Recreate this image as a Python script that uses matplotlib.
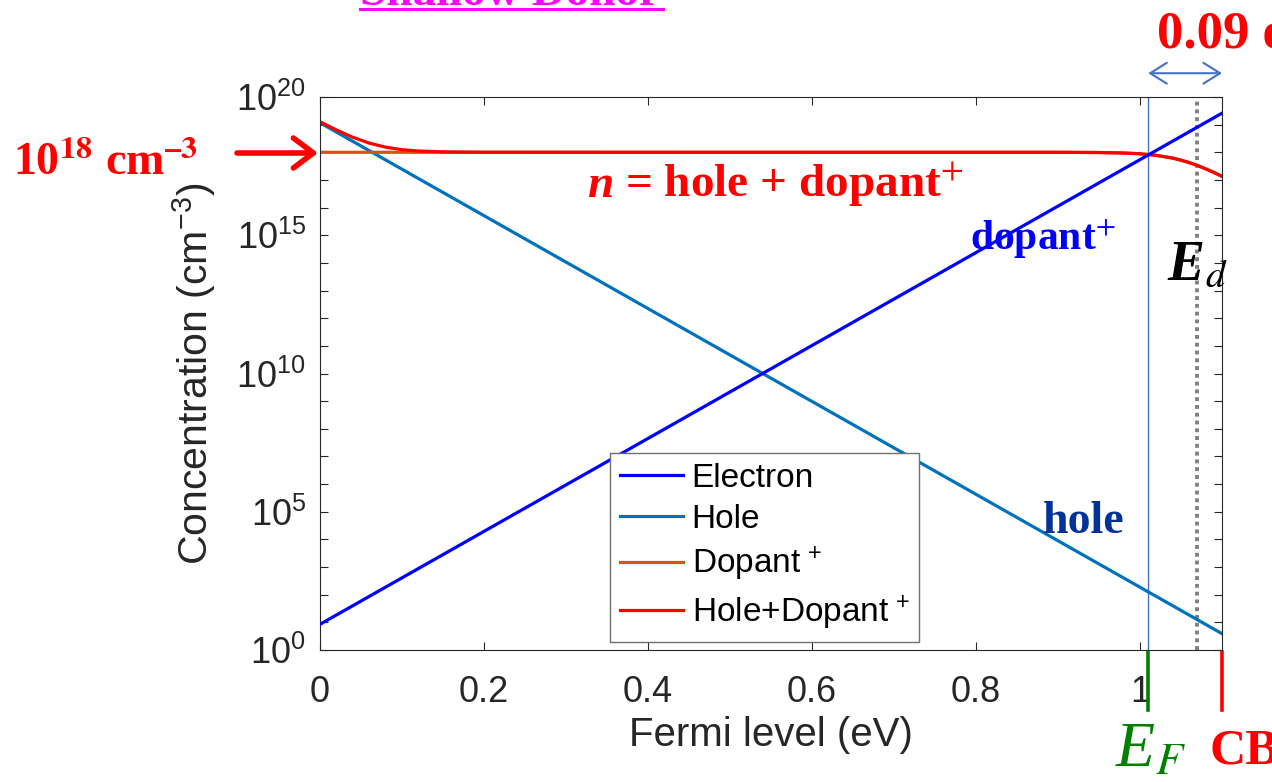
import matplotlib
matplotlib.use('Agg')
import matplotlib.pyplot as plt
from matplotlib.ticker import FixedLocator, FixedFormatter, NullFormatter
from matplotlib.lines import Line2D

W, H = 1272, 782

# energy positions (eV)
e_fermi = 1.01
e_donor = 1.07
e_cb = 1.1

electron_x = [0.0, 1.1]
electron_y = [8.5, 2.6e19]
hole_x = [0.0, 1.1]
hole_y = [1.17e19, 3.9]
dopant_x = [0.0, 0.9, 0.95, 0.98, 1.0, 1.02, 1.04, 1.05, 1.06, 1.07, 1.08, 1.09, 1.1]
dopant_y = [1.0e18, 1.0e18, 0.981e18, 0.942e18, 0.883e18, 0.776e18, 0.615e18,
            0.52e18, 0.424e18, 0.333e18, 0.2535e18, 0.187e18, 0.1355e18]
total_x = [0.0, 0.02, 0.04, 0.06, 0.08, 0.10, 0.12, 0.15, 0.2,
           0.9, 0.95, 0.98, 1.0, 1.02, 1.04, 1.05, 1.06, 1.07, 1.08, 1.09, 1.1]
total_y = [1.275e19, 6.42e18, 3.5e18, 2.15e18, 1.53e18, 1.245e18, 1.113e18, 1.035e18, 1.005e18,
           1.0e18, 0.981e18, 0.942e18, 0.883e18, 0.776e18, 0.615e18,
           0.52e18, 0.424e18, 0.333e18, 0.2535e18, 0.187e18, 0.1355e18]

x_ticks = [0, 0.2, 0.4, 0.6, 0.8, 1.0]
x_ticklabels = ['0', '0.2', '0.4', '0.6', '0.8', '1']
y_ticks = [1e0, 1e5, 1e10, 1e15, 1e20]
y_ticklabels = [r'$10^{0}$', r'$10^{5}$', r'$10^{10}$', r'$10^{15}$', r'$10^{20}$']

plt.rcParams['font.family'] = ['Liberation Sans', 'DejaVu Sans']
plt.rcParams['mathtext.fontset'] = 'custom'
plt.rcParams['mathtext.rm'] = 'Liberation Sans'
plt.rcParams['mathtext.it'] = 'Liberation Sans:italic'
plt.rcParams['mathtext.bf'] = 'Liberation Sans:bold'

fig = plt.figure(figsize=(W / 100, H / 100), dpi=100)
ax = fig.add_axes([320 / W, 1 - 650 / H, 902 / W, 553 / H])

h_hole, = ax.plot(hole_x, hole_y, color='#0072BD', lw=2.3, zorder=2)
h_dop, = ax.plot(dopant_x, dopant_y, color='#D95319', lw=2.3, zorder=2)
h_tot, = ax.plot(total_x, total_y, color='#FF0000', lw=2.3, zorder=2)
h_el, = ax.plot(electron_x, electron_y, color='#0000FF', lw=2.3, zorder=3)

ax.axvline(e_fermi, color='#4472C4', lw=1.0, zorder=1)
ax.axvline(e_donor, color='#808080', lw=2.8, ls=(0, (1, 1)), zorder=1)

ax.set_yscale('log')
ax.set_xlim(0, 1.1)
ax.set_ylim(1e0, 1e20)
ax.xaxis.set_major_locator(FixedLocator(x_ticks))
ax.xaxis.set_major_formatter(FixedFormatter(x_ticklabels))
ax.yaxis.set_major_locator(FixedLocator(y_ticks))
ax.yaxis.set_major_formatter(FixedFormatter(y_ticklabels))
ax.yaxis.set_minor_locator(FixedLocator([10.0 ** k for k in range(21)]))
ax.yaxis.set_minor_formatter(NullFormatter())
ax.tick_params(which='both', direction='in', top=True, right=True,
               colors='#262626', labelsize=26, length=6, width=0.8)
ax.tick_params(axis='x', pad=18)
ax.tick_params(axis='y', pad=10)
for sp in ax.spines.values():
    sp.set_color('#262626')
    sp.set_linewidth(0.8)

ax.set_xlabel('Fermi level (eV)', fontsize=29, color='#262626', labelpad=4)
ax.set_ylabel(r'Concentration (cm$^{-3}$)', fontsize=29.5, color='#262626', labelpad=13)

leg = ax.legend([h_el, h_hole, h_dop, h_tot],
                ['Electron', 'Hole', r'Dopant$^{\,+}$', r'Hole+Dopant$^{\,+}$'],
                loc='upper left', bbox_to_anchor=(610 / W, 1 - 453 / H),
                bbox_transform=fig.transFigure, borderaxespad=0, fontsize=24,
                handlelength=1.9, handletextpad=0.25, borderpad=0.3,
                labelspacing=0.3, fancybox=False, framealpha=1, edgecolor='#707070')
leg.get_frame().set_linewidth(1.0)

serif = 'Liberation Serif'


def label(x, y, s, **kw):
    fig.text(x / W, 1 - y / H, s, family=serif, math_fontfamily='stix', **kw)


# title (cut at the top edge) with underline
label(360, 5, 'Shallow Donor', fontsize=34, fontweight='bold', color='#FF00FF')
fig.add_artist(Line2D([360 / W, 663 / W], [1 - 9 / H, 1 - 9 / H], color='#FF00FF', lw=2.2))

label(1157, 47, '0.09 eV', fontsize=38, fontweight='bold', color='#FF0000')
label(13, 175, '10$^{\\mathbf{18}}$ cm$^{\\mathbf{\u2013}\\mathbf{3}}$', fontsize=33,
      fontweight='bold', color='#FF0000')
label(587, 197, 'n', fontsize=34, fontweight='bold', fontstyle='italic', color='#FF0000')
label(625, 197, r'= hole + dopant$^{+}$', fontsize=34, fontweight='bold', color='#FF0000')
label(970, 250, r'dopant$^{+}$', fontsize=30, fontweight='bold', color='#0000FF')
label(1043, 533, 'hole', fontsize=33, fontweight='bold', color='#003399')
label(1167, 280, r'E$_{d}$', fontsize=40, fontweight='bold', fontstyle='italic', color='black')
label(1115, 767, r'E$_{F}$', fontsize=46, fontstyle='italic', color='#008000')
label(1210, 763, 'CB', fontsize=36, fontweight='bold', color='#FF0000')

# markers below the axis for E_F and CB
xt = ax.get_xaxis_transform()
ax.plot([e_fermi, e_fermi], [-0.004, -0.108], transform=xt, clip_on=False, color='#008000', lw=2.6)
ax.plot([e_cb, e_cb], [-0.004, -0.108], transform=xt, clip_on=False, color='#FF0000', lw=2.6)

# 0.09 eV span arrow
ax.annotate('', xy=(e_cb, 1.043), xytext=(e_fermi, 1.043), xycoords=xt, textcoords=xt,
            annotation_clip=False,
            arrowprops=dict(arrowstyle='<->,head_length=0.8,head_width=0.5',
                            color='#4472C4', lw=1.5, mutation_scale=15, shrinkA=0, shrinkB=0))

# 10^18 arrow
ax.annotate('', xy=(318, H - 153), xytext=(237, H - 153), xycoords='figure pixels',
            textcoords='figure pixels', annotation_clip=False,
            arrowprops=dict(arrowstyle='->,head_length=0.72,head_width=0.54',
                            color='#FF0000', lw=4, mutation_scale=20, shrinkA=0, shrinkB=0))

fig.savefig('out.png', dpi=100)
